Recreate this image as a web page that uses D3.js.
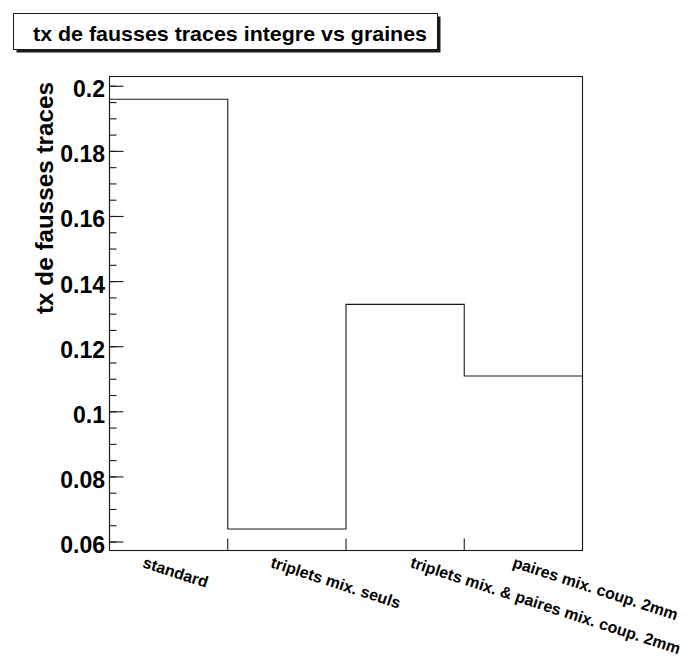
<!DOCTYPE html>
<html>
<head>
<meta charset="utf-8">
<script src="https://cdn.jsdelivr.net/npm/d3@7"></script>
<style>
  html, body { margin: 0; padding: 0; background: #fff; }
  text { font-family: "Liberation Sans", Arial, Helvetica, sans-serif; font-weight: bold; fill: #000; }
</style>
</head>
<body>
<svg id="chart" width="691" height="670"></svg>
<script>
const categories = ["standard", "triplets mix. seuls", "triplets mix. & paires mix. coup. 2mm", "paires mix. coup. 2mm"];
const values = [0.196, 0.064, 0.133, 0.111];
const yTicks = [0.06, 0.08, 0.10, 0.12, 0.14, 0.16, 0.18, 0.20];
const yTickLabels = ["0.06", "0.08", "0.1", "0.12", "0.14", "0.16", "0.18", "0.2"];
const yMinorStep = 0.005;
const yDomain = [0.0574, 0.2030];
const chartTitle = "tx de fausses traces integre vs graines";
const yAxisTitle = "tx de fausses traces";

const W = 691, H = 670;
const frame = { left: 109.5, right: 582.5, top: 76.5, bottom: 550.5 };
const ink = "#1a1a1a";

const svg = d3.select("#chart");
svg.append("rect").attr("width", W).attr("height", H).attr("fill", "#fff");

const x = d3.scaleBand().domain(categories).range([frame.left, frame.right]).paddingInner(0).paddingOuter(0);
const y = d3.scaleLinear().domain(yDomain).range([frame.bottom, frame.top]);

// frame
svg.append("rect")
  .attr("x", frame.left).attr("y", frame.top)
  .attr("width", frame.right - frame.left).attr("height", frame.bottom - frame.top)
  .attr("fill", "none").attr("stroke", ink).attr("stroke-width", 1.1);

// histogram step line
const pts = [];
categories.forEach((c, i) => {
  const x0 = x(c), x1 = x(c) + x.bandwidth();
  pts.push([x0, y(values[i])]);
  pts.push([x1, y(values[i])]);
});
const path = d3.path();
path.moveTo(pts[0][0], frame.bottom);
pts.forEach(p => path.lineTo(p[0], p[1]));
path.lineTo(pts[pts.length - 1][0], frame.bottom);
svg.append("path").attr("d", path.toString())
  .attr("fill", "none").attr("stroke", ink).attr("stroke-width", 1.1);

// y axis ticks
const majorLen = 14, minorLen = 7;
const minorTicks = d3.range(Math.round(yTicks[0] / yMinorStep), Math.round(yDomain[1] / yMinorStep) + 1)
  .map(k => k * yMinorStep).filter(v => v >= yTicks[0] - 1e-9 && v <= yDomain[1]);
svg.append("g").selectAll("line").data(minorTicks).join("line")
  .attr("x1", frame.left).attr("x2", frame.left + minorLen)
  .attr("y1", d => y(d)).attr("y2", d => y(d))
  .attr("stroke", ink).attr("stroke-width", 1.1);
svg.append("g").selectAll("line").data(yTicks).join("line")
  .attr("x1", frame.left).attr("x2", frame.left + majorLen)
  .attr("y1", d => y(d)).attr("y2", d => y(d))
  .attr("stroke", ink).attr("stroke-width", 1.1);
svg.append("g").selectAll("text").data(yTicks).join("text")
  .attr("x", 105).attr("y", d => y(d) + 11)
  .attr("text-anchor", "end").attr("font-size", 23)
  .text((d, i) => yTickLabels[i]);

// x axis ticks at bin edges (inner)
const edges = categories.slice(1).map(c => x(c));
svg.append("g").selectAll("line").data(edges).join("line")
  .attr("x1", d => d).attr("x2", d => d)
  .attr("y1", frame.bottom).attr("y2", frame.bottom - 12)
  .attr("stroke", ink).attr("stroke-width", 1.1);

// x labels (rotated)
const angle = 18;
const lab = svg.append("g").selectAll("text").data(categories).join("text")
  .attr("font-size", 16).attr("text-anchor", "start")
  .text(d => d);
lab.each(function(d) {
  const L = this.getComputedTextLength();
  const cx = x(d) + x.bandwidth() / 2;
  const sx = cx - 36.6 + 0.1445 * L;
  const sy = 567;
  d3.select(this).attr("transform", `translate(${sx},${sy}) rotate(${angle})`);
});

// y axis title
svg.append("text")
  .attr("transform", "translate(53,82) rotate(-90)")
  .attr("text-anchor", "end").attr("font-size", 24)
  .attr("textLength", 232).attr("lengthAdjust", "spacingAndGlyphs")
  .text(yAxisTitle);

// title box with shadow
const tb = { x: 13.5, y: 13.5, w: 424, h: 36 };
svg.append("rect").attr("x", tb.x + 3).attr("y", tb.y + 3).attr("width", tb.w).attr("height", tb.h).attr("fill", ink);
svg.append("rect").attr("x", tb.x).attr("y", tb.y).attr("width", tb.w).attr("height", tb.h)
  .attr("fill", "#fff").attr("stroke", ink).attr("stroke-width", 1);
svg.append("text").attr("x", 33).attr("y", 41)
  .attr("font-size", 21).attr("textLength", 394).attr("lengthAdjust", "spacingAndGlyphs")
  .text(chartTitle);
</script>
</body>
</html>
